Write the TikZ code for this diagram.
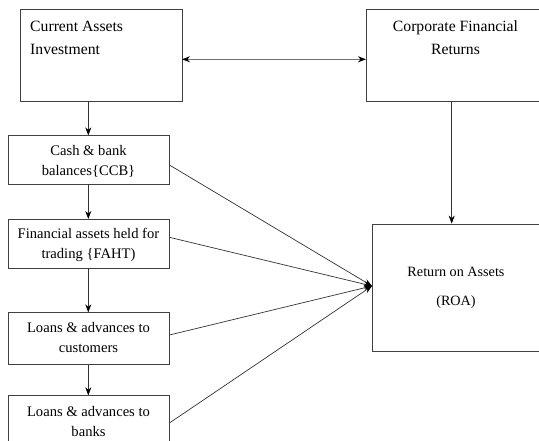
\documentclass[tikz,border=0pt]{standalone}
\usepackage{fontspec}
\setmainfont{Liberation Serif}
\usetikzlibrary{arrows.meta}
\begin{document}
\begin{tikzpicture}[x=1pt,y=-1pt,
  box/.style={draw=black!75,line width=0.8pt},
  conn/.style={draw=black!80,line width=0.7pt,-{Stealth[length=8pt,width=6pt,color=black]}},
  bigtxt/.style={font=\fontsize{15.7}{23}\selectfont,inner sep=0pt},
  txt/.style={font=\fontsize{14.6}{20}\selectfont,align=center,inner sep=0pt}]
\useasboundingbox (0,0) rectangle (539,440);
\clip (0,0) rectangle (539,440);
% top boxes
\draw[box] (20.7,9.3) rectangle (182,101);
\coordinate (caie) at (182,59.3);
\coordinate (cais) at (88.3,101);
\node[bigtxt,anchor=base west] (cai1) at (30,31) {Current Assets};
\node[bigtxt,anchor=base west] (cai2) at (30,54) {Investment};
\draw[box] (366,9.3) rectangle (541,101);
\coordinate (cfrw) at (366,59.3);
\coordinate (cfrs) at (451.7,101);
\node[bigtxt,anchor=base] (cfr1) at (455.5,31) {Corporate Financial};
\node[bigtxt,anchor=base] (cfr2) at (455.5,54) {Returns};
% left boxes
\node[box,minimum width=161pt,minimum height=48.3pt,inner sep=0pt] (ccb) at (88.5,159.9) {};
\node[txt] (ccbtxt) at (88.5,161) {Cash \& bank\\balances\{CCB\}};
\node[box,minimum width=161pt,minimum height=48.7pt,inner sep=0pt] (faht) at (88.5,243.7) {};
\node[txt] (fahttxt) at (88.5,244.5) {Financial assets held for\\trading \{FAHT)};
\node[box,minimum width=161pt,minimum height=51.6pt,inner sep=0pt] (lac) at (88.5,338.5) {};
\node[txt] (lactxt) at (88.5,337.5) {Loans \& advances to\\customers};
\node[box,minimum width=161pt,minimum height=60pt,inner sep=0pt] (lab) at (88.5,425.7) {};
\node[txt] (labtxt) at (88.5,421) {Loans \& advances to\\banks};
% ROA
\node[box,minimum width=170pt,minimum height=127pt,inner sep=0pt] (roa) at (457,287.5) {};
\node[txt,font=\fontsize{14.2}{29}\selectfont] (roatxt) at (456,288) {Return on Assets\\(ROA)};
\coordinate (tip) at (372,286);
% connectors
\draw[draw=black!55,line width=1.5pt,{Stealth[length=8pt,width=6pt,color=black]}-{Stealth[length=8pt,width=6pt,color=black]}] (caie) -- (cfrw);
\draw[conn] (cais) -- (ccb.north -| cais);
\draw[conn] (ccb.south -| cais) -- (faht.north -| cais);
\draw[conn] (faht.south -| cais) -- (lac.north -| cais);
\draw[conn] (lac.south -| cais) -- (lab.north -| cais);
\draw[conn] (cfrs) -- (roa.north -| cfrs);
\draw[conn] (ccb.east |- 0,165) -- (tip);
\draw[conn] (faht.east |- 0,237.3) -- (tip);
\draw[conn] (lac.east |- 0,335) -- (tip);
\draw[conn] (lab.east |- 0,423) -- (tip);
\end{tikzpicture}
\end{document}
